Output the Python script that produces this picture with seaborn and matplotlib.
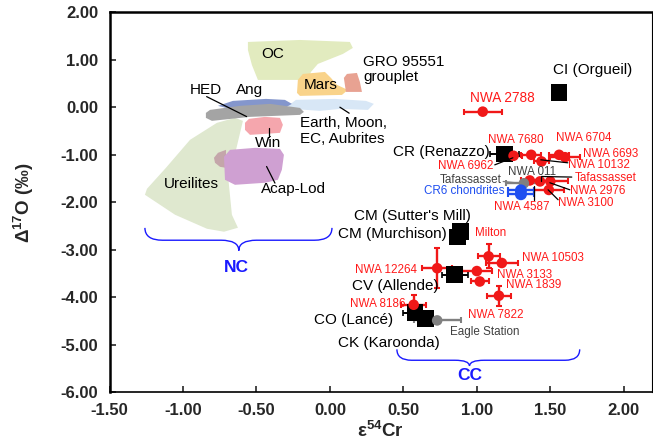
import numpy as np
import pandas as pd
import matplotlib
matplotlib.use("Agg")
import matplotlib.pyplot as plt
from matplotlib.path import Path
from matplotlib.patches import PathPatch
import seaborn as sns

# ---------------- data ----------------
# bulk carbonaceous chondrites (black squares)
bulk_names = ["CI (Orgueil)", "CR (Renazzo)", "CM (Sutter's Mill)", "CM (Murchison)",
              "CV (Allende)", "CO (Lancé)", "CK (Karoonda)"]
bulk_e54 = [1.56, 1.19, 0.89, 0.87, 0.85, 0.58, 0.65]
bulk_d17 = [0.31, -0.98, -2.62, -2.73, -3.53, -4.33, -4.45]
bulk_xerr = [0.0, 0.10, 0.05, 0.05, 0.09, 0.08, 0.0]

# ungrouped / individual meteorites (red)
ung_names = ["NWA 2788", "NWA 6962", "NWA 7680", "NWA 10132", "NWA 6704", "NWA 6693",
             "NWA 4587", "Tafassasset", "NWA 2976", "NWA 3100",
             "Milton", "NWA 10503", "NWA 12264", "NWA 3133", "NWA 1839", "NWA 7822", "NWA 8186"]
ung_e54 = [1.04, 1.25, 1.37, 1.44, 1.56, 1.60,
           1.36, 1.43, 1.50, 1.49,
           1.08, 1.17, 0.73, 1.00, 1.02, 1.15, 0.57]
ung_d17 = [-0.09, -1.02, -1.00, -1.14, -1.00, -1.05,
           -1.54, -1.56, -1.56, -1.74,
           -3.14, -3.28, -3.39, -3.45, -3.67, -3.97, -4.16]
ung_xerr = [0.13, 0.06, 0.07, 0.05, 0.07, 0.10,
            0.06, 0.08, 0.12, 0.10,
            0.075, 0.11, 0.10, 0.10, 0.06, 0.08, 0.085]
ung_yerr = [0, 0, 0, 0, 0, 0,
            0, 0, 0, 0,
            0.25, 0, 0.42, 0, 0, 0.21, 0.20]

# grey samples
grey_names = ["Tafassasset (grey)", "Eagle Station"]
grey_e54 = [1.32, 0.73]
grey_d17 = [-1.60, -4.49]
grey_xerr = [0.12, 0.16]

# CR6 chondrites (blue)
cr6_e54 = [1.30, 1.30]
cr6_d17 = [-1.75, -1.83]
cr6_xerr = [0.09, 0.09]

# fields of non-carbonaceous bodies (ε54Cr, Δ17O outlines)
field_OC = [(-0.558, 1.379), (-0.204, 1.421), (0.136, 1.379), (0.156, 1.253), (0.088, 1.126),
            (-0.082, 0.916), (-0.129, 0.747), (-0.150, 0.579), (-0.490, 0.579), (-0.531, 0.895),
            (-0.558, 1.211)]
field_Ureilites = [(-1.259, -1.842), (-1.245, -1.716), (-1.116, -1.274), (-0.952, -0.684),
                   (-0.769, -0.326), (-0.646, -0.221), (-0.592, -0.284), (-0.639, -0.895),
                   (-0.694, -1.421), (-0.667, -2.263), (-0.626, -2.537), (-0.721, -2.621),
                   (-0.837, -2.558), (-1.054, -2.263)]
field_Mars = [(-0.224, 0.305), (-0.218, 0.579), (-0.184, 0.705), (-0.034, 0.747), (0.007, 0.621),
              (0.048, 0.474), (0.122, 0.368), (0.082, 0.263), (-0.204, 0.242)]
field_GRO = [(0.095, 0.621), (0.116, 0.705), (0.184, 0.726), (0.204, 0.537), (0.218, 0.326),
             (0.109, 0.326)]
field_Earth = [(-0.286, 0.032), (-0.231, 0.158), (0.034, 0.179), (0.245, 0.137), (0.299, 0.074),
               (0.259, -0.053), (0.068, -0.032), (-0.068, -0.074), (-0.259, -0.032)]
field_Ang = [(-0.762, 0.032), (-0.660, 0.137), (-0.435, 0.179), (-0.306, 0.158), (-0.259, 0.074),
             (-0.306, -0.011), (-0.680, -0.032)]
field_HED = [(-0.844, -0.116), (-0.816, -0.053), (-0.612, 0.032), (-0.408, 0.074), (-0.204, -0.011),
             (-0.177, -0.095), (-0.204, -0.158), (-0.544, -0.200), (-0.803, -0.284), (-0.844, -0.221)]
field_Win = [(-0.578, -0.326), (-0.551, -0.242), (-0.442, -0.200), (-0.340, -0.221), (-0.320, -0.368),
             (-0.340, -0.537), (-0.544, -0.579), (-0.578, -0.474)]
field_Brach = [(-0.789, -1.063), (-0.762, -0.958), (-0.707, -0.895), (-0.707, -1.274),
               (-0.748, -1.253), (-0.782, -1.168)]
field_AcapLod = [(-0.721, -1.042), (-0.680, -0.895), (-0.510, -0.853), (-0.340, -0.874),
                 (-0.313, -1.000), (-0.327, -1.316), (-0.354, -1.526), (-0.442, -1.589),
                 (-0.646, -1.632), (-0.714, -1.526)]

x_ticks = [-1.5, -1.0, -0.5, 0.0, 0.5, 1.0, 1.5, 2.0]
y_ticks = [-6, -5, -4, -3, -2, -1, 0, 1, 2]

# ---------------- style ----------------
sns.set_style("white")
plt.rcParams["font.family"] = ["Liberation Sans", "DejaVu Sans"]
plt.rcParams["mathtext.fontset"] = "custom"
plt.rcParams["mathtext.rm"] = "Liberation Sans"
plt.rcParams["mathtext.bf"] = "Liberation Sans:bold"
plt.rcParams["mathtext.default"] = "bf"

RED = "#f01818"
RED_T = "#ff1a1a"
GREY = "#808080"
BLUE = "#1f4ff0"
BRACE = "#1a1aff"

fig = plt.figure(figsize=(6.53, 4.40), dpi=100)
ax = fig.add_axes([0.1677, 0.109, 0.8303, 0.8626])
ax.set_xlim(-1.5, 2.19)
ax.set_ylim(-6, 2)

# fields
fields = [
    (field_Ureilites, "#dfe8cf"),
    (field_OC, "#e2ebbf"),
    (field_Mars, "#f9d38a"),
    (field_GRO, "#e8a292"),
    (field_Earth, "#d8e7f6"),
    (field_Ang, "#8496cc"),
    (field_HED, "#a4a4a4"),
    (field_Win, "#f5a6ad"),
    (field_Brach, "#c4a6aa"),
    (field_AcapLod, "#cfa0d2"),
]
for pts, col in fields:
    ax.fill([p[0] for p in pts], [p[1] for p in pts], color=col, lw=0, zorder=1)

# braces
def brace(x0, x1, xtip, ytop, ymid, ybot, r):
    verts = [(x0, ytop), (x0, ymid), (x0 + r, ymid), (xtip - r, ymid),
             (xtip, ymid), (xtip, ybot), (xtip, ymid), (xtip + r, ymid),
             (x1 - r, ymid), (x1, ymid), (x1, ytop)]
    codes = [Path.MOVETO, Path.CURVE3, Path.CURVE3, Path.LINETO,
             Path.CURVE3, Path.CURVE3, Path.CURVE3, Path.CURVE3,
             Path.LINETO, Path.CURVE3, Path.CURVE3]
    ax.add_patch(PathPatch(Path(verts, codes), fill=False, ec=BRACE, lw=1.0, zorder=2))

brace(-1.259, 0.014, -0.62, -2.54, -2.80, -3.02, 0.12)
brace(0.456, 1.70, 0.95, -5.10, -5.33, -5.45, 0.10)

# error bars
ax.errorbar(ung_e54, ung_d17, xerr=ung_xerr, yerr=ung_yerr, fmt="none", ecolor=RED,
            elinewidth=1.7, capsize=2.5, capthick=1.5, zorder=3)
ax.errorbar(grey_e54, grey_d17, xerr=grey_xerr, fmt="none", ecolor=GREY,
            elinewidth=1.7, capsize=2.5, capthick=1.5, zorder=3)
ax.errorbar(cr6_e54, cr6_d17, xerr=cr6_xerr, fmt="none", ecolor=BLUE,
            elinewidth=1.7, capsize=2.5, capthick=1.5, zorder=3)
ax.errorbar(bulk_e54, bulk_d17, xerr=bulk_xerr, fmt="none", ecolor="black",
            elinewidth=1.4, capsize=2.5, capthick=1.2, zorder=3)

# markers via seaborn
df_ung = pd.DataFrame({"x": ung_e54, "y": ung_d17})
df_bulk = pd.DataFrame({"x": bulk_e54, "y": bulk_d17})
df_grey = pd.DataFrame({"x": grey_e54, "y": grey_d17})
df_cr6 = pd.DataFrame({"x": cr6_e54, "y": cr6_d17})
sns.scatterplot(data=df_bulk, x="x", y="y", marker="s", s=145, color="black",
                edgecolor="none", ax=ax, zorder=4, legend=False)
sns.scatterplot(data=df_ung, x="x", y="y", marker="o", s=58, color=RED,
                edgecolor="none", ax=ax, zorder=5, legend=False)
sns.scatterplot(data=df_grey, x="x", y="y", marker="o", s=58, color=GREY,
                edgecolor="none", ax=ax, zorder=5, legend=False)
sns.scatterplot(data=df_cr6, x="x", y="y", marker="o", s=75, color=BLUE,
                edgecolor="none", ax=ax, zorder=5, legend=False)

# leader lines
leaders = [
    ((-0.839, 0.227), (-0.567, -0.194), "black"),
    ((0.068, 0.004), (0.131, -0.122), "black"),
    ((-0.417, -0.438), (-0.417, -0.621), "black"),
    ((-0.431, -1.246), (-0.374, -1.596), "black"),
    ((1.619, -1.168), (1.435, -1.105), "black"),
    ((1.122, -1.211), (1.245, -1.063), "black"),
    ((1.179, -1.562), (1.30, -1.60), GREY),
    ((1.39, -1.667), (1.39, -1.947), "black"),
    ((1.646, -1.469), (1.440, -1.457), "black"),
    ((1.440, -1.457), (1.440, -1.56), "black"),
    ((1.633, -1.737), (1.497, -1.589), "black"),
    ((1.553, -1.947), (1.485, -1.737), "black"),
]
for (a, b, c) in leaders:
    ax.plot([a[0], b[0]], [a[1], b[1]], color=c, lw=0.9, zorder=6)

# labels
T = dict(fontsize=11, color="black", zorder=7)
ax.text(-0.39, 1.126, "OC", ha="center", va="center", **T)
ax.text(-0.063, 0.474, "Mars", ha="center", va="center", **T)
ax.text(0.227, 0.964, "GRO 95551", ha="left", va="center", **T)
ax.text(0.227, 0.636, "grouplet", ha="left", va="center", **T)
ax.text(-0.844, 0.368, "HED", ha="center", va="center", **T)
ax.text(-0.544, 0.368, "Ang", ha="center", va="center", **T)
ax.text(-0.204, -0.333, "Earth, Moon,", ha="left", va="center", **T)
ax.text(-0.204, -0.669, "EC, Aubrites", ha="left", va="center", **T)
ax.text(-0.42, -0.754, "Win", ha="center", va="center", **T)
ax.text(-0.941, -1.611, "Ureilites", ha="center", va="center", **T)
ax.text(-0.245, -1.722, "Acap-Lod", ha="center", va="center", **T)
ax.text(1.791, 0.789, "CI (Orgueil)", ha="center", va="center", **T)
ax.text(1.088, -0.931, "CR (Renazzo)", ha="right", va="center", **T)
ax.text(0.561, -2.284, "CM (Sutter's Mill)", ha="center", va="center", **T)
ax.text(0.794, -2.663, "CM (Murchison)", ha="right", va="center", **T)
ax.text(0.737, -3.758, "CV (Allende)", ha="right", va="center", **T)
ax.text(0.431, -4.474, "CO (Lancé)", ha="right", va="center", **T)
ax.text(0.40, -4.964, "CK (Karoonda)", ha="center", va="center", **T)

R = dict(fontsize=8.4, color=RED_T, va="center", zorder=7)
ax.text(1.173, 0.20, "NWA 2788", ha="center", fontsize=9.8, color=RED_T, va="center", zorder=7)
ax.text(1.265, -0.684, "NWA 7680", ha="center", **R)
ax.text(1.542, -0.648, "NWA 6704", ha="left", **R)
ax.text(1.723, -0.985, "NWA 6693", ha="left", **R)
ax.text(1.621, -1.211, "NWA 10132", ha="left", **R)
ax.text(1.111, -1.232, "NWA 6962", ha="right", **R)
ax.text(1.667, -1.491, "Tafassasset", ha="left", **R)
ax.text(1.633, -1.752, "NWA 2976", ha="left", **R)
ax.text(1.553, -2.017, "NWA 3100", ha="left", **R)
ax.text(1.304, -2.101, "NWA 4587", ha="center", **R)
ax.text(0.986, -2.648, "Milton", ha="left", **R)
ax.text(1.304, -3.175, "NWA 10503", ha="left", **R)
ax.text(0.590, -3.421, "NWA 12264", ha="right", **R)
ax.text(1.134, -3.526, "NWA 3133", ha="left", **R)
ax.text(1.197, -3.752, "NWA 1839", ha="left", **R)
ax.text(0.517, -4.143, "NWA 8186", ha="right", **R)
ax.text(0.941, -4.368, "NWA 7822", ha="left", **R)

G = dict(fontsize=8.4, color="#404040", va="center", zorder=7)
ax.text(1.213, -1.352, "NWA 011", ha="left", **G)
ax.text(1.170, -1.526, "Tafassasset", ha="right", **G)
ax.text(0.816, -4.726, "Eagle Station", ha="left", **G)
ax.text(1.190, -1.758, "CR6 chondrites", ha="right", fontsize=8.4, color=BLUE, va="center", zorder=7)

ax.text(-0.639, -3.38, "NC", ha="center", va="center", fontsize=12.5, fontweight="bold", color=BRACE)
ax.text(0.952, -5.653, "CC", ha="center", va="center", fontsize=12.5, fontweight="bold", color=BRACE)

# axes styling
ax.set_xticks(x_ticks)
ax.set_yticks(y_ticks)
ax.set_xticklabels([f"{v:.2f}" for v in x_ticks])
ax.set_yticklabels([f"{v:.2f}" for v in y_ticks])
ax.tick_params(direction="in", length=4, width=1.2, labelsize=12, pad=8,
               bottom=True, left=True, top=False, right=False)
for lab in ax.get_xticklabels() + ax.get_yticklabels():
    lab.set_fontweight("bold")
for sp in ax.spines.values():
    sp.set_visible(True)
    sp.set_color("black")
ax.spines["left"].set_linewidth(1.8)
ax.spines["top"].set_linewidth(1.8)
ax.spines["bottom"].set_linewidth(1.2)
ax.spines["right"].set_linewidth(0.8)

ax.set_xlabel(r"ε$^{54}$Cr", fontsize=13.5, fontweight="bold", labelpad=2)
ax.set_ylabel(r"Δ$^{17}$O (‰)", fontsize=13.5, fontweight="bold", labelpad=18)

fig.savefig("out.png", dpi=100)
